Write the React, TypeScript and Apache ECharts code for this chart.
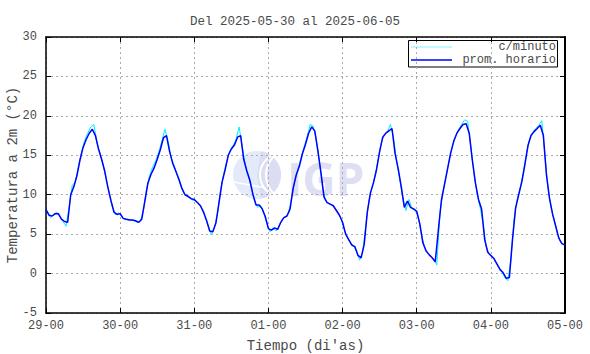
import React, { useEffect, useRef } from "react";
import * as echarts from "echarts";

const titleText = "Del 2025-05-30 al 2025-06-05";
const dayLabels = ["29-00", "30-00", "31-00", "01-00", "02-00", "03-00", "04-00", "05-00"];

// hourly average (prom. horario), hours 0..168 from 29-00
const hourly = [
  8.1, 7.4, 7.3, 7.6, 7.6, 6.9, 6.6, 6.5, 10.0, 11.0, 12.4, 14.4, 16.0, 17.0, 17.8, 18.3, 17.5, 15.8, 14.5, 13.0, 11.0, 9.3, 7.8, 7.5,
  7.6, 7.0, 6.9, 6.8, 6.8, 6.7, 6.5, 6.9, 9.2, 11.5, 12.6, 13.4, 14.5, 15.7, 17.2, 17.5, 15.5, 14.0, 13.0, 12.0, 10.8, 10.0, 9.8, 9.5,
  9.4, 9.0, 8.6, 7.8, 6.7, 5.4, 5.3, 6.4, 9.0, 11.6, 13.2, 15.0, 15.8, 16.3, 17.3, 17.5, 14.5, 13.0, 11.8, 10.0, 8.7, 8.7, 8.2, 7.2,
  5.7, 5.5, 5.8, 5.6, 6.5, 7.1, 7.3, 8.2, 10.8, 12.5, 13.6, 15.2, 16.4, 17.8, 18.6, 18.1, 15.6, 12.8, 9.7, 9.0, 8.8, 8.6, 8.0, 7.4,
  6.5, 5.0, 4.3, 3.6, 3.4, 2.3, 2.0, 3.7, 7.8, 10.2, 11.5, 13.2, 15.5, 17.3, 17.8, 18.1, 18.4, 15.2, 13.3, 11.0, 8.4, 9.2, 8.4, 8.2,
  7.9, 6.3, 3.9, 2.9, 2.4, 2.0, 1.5, 5.5, 9.3, 11.3, 13.3, 15.3, 16.8, 17.8, 18.4, 18.9, 19.0, 17.8, 14.4, 11.5, 9.4, 8.2, 4.3, 2.7,
  2.3, 1.9, 1.2, 0.5, 0.1, -0.6, -0.5, 4.3, 8.3, 10.0, 11.6, 13.8, 16.2, 17.5, 18.0, 18.4, 18.8, 17.5, 12.5, 9.5, 7.5, 6.0, 4.5, 3.8,
  3.6,
];

// per-minute readings, sampled at the half hour (h + 0.5)
const minute = [
  7.6, 7.1, 7.5, 7.8, 7.2, 6.6, 6.0, 8.5, 11.2, 11.6, 13.6, 15.4, 16.9, 17.8, 18.6, 18.9, 16.6, 15.2, 13.8, 12.0, 10.1, 8.4, 7.5, 7.7,
  7.2, 6.8, 6.9, 6.8, 6.7, 6.5, 6.6, 8.0, 10.6, 12.4, 13.5, 14.3, 15.4, 16.8, 18.3, 16.8, 14.7, 13.7, 12.4, 11.3, 10.2, 9.8, 9.6, 9.3,
  9.2, 8.8, 8.2, 7.2, 6.0, 4.9, 5.8, 7.6, 10.5, 12.6, 14.2, 15.6, 16.2, 17.0, 18.6, 16.2, 13.8, 12.5, 10.9, 9.2, 8.4, 8.6, 7.7, 6.3,
  5.3, 5.8, 5.4, 6.1, 6.9, 7.2, 7.6, 9.6, 11.8, 13.2, 14.6, 16.0, 17.3, 18.9, 18.7, 17.0, 14.2, 11.0, 9.2, 8.9, 8.7, 8.3, 7.7, 7.0,
  5.6, 4.6, 3.9, 3.6, 2.8, 1.7, 2.7, 6.0, 9.2, 10.9, 12.4, 14.4, 16.5, 17.6, 18.0, 18.9, 17.2, 14.2, 12.0, 9.6, 8.0, 9.4, 8.2, 8.0,
  7.2, 5.0, 3.4, 2.6, 2.2, 1.8, 1.1, 7.6, 10.4, 12.3, 14.4, 16.1, 17.3, 18.2, 18.9, 19.5, 19.3, 16.1, 12.8, 10.2, 8.4, 6.4, 3.4, 2.4,
  2.2, 1.5, 0.8, 0.3, -0.5, -0.9, 1.8, 6.8, 9.3, 10.9, 12.7, 15.2, 17.0, 17.9, 18.4, 18.8, 19.4, 15.0, 10.8, 8.4, 6.8, 5.2, 4.0, 3.7,
];

const FONT = "Liberation Mono";
const TXT = "#4a4a4a";

export default function App() {
  const ref = useRef<HTMLDivElement>(null);
  useEffect(() => {
    if (!ref.current) return;
    const chart = echarts.init(ref.current, undefined, { renderer: "svg" });
    const hourlyData = hourly.map((v, i) => [i, v]);
    const minuteData = minute.map((v, i) => [i + 0.5, v]);
    const axisLine = { show: true, onZero: false, lineStyle: { color: "#000", width: 1.5 } };
    const tick = { show: true, inside: true, length: 5, lineStyle: { color: "#000", width: 1 } };
    const splitLine = { show: true, lineStyle: { color: "#aaa", type: [2, 3] as any, width: 1 } };
    chart.setOption({
      animation: false,
      backgroundColor: "#fff",
      title: {
        text: titleText,
        left: "center",
        top: 10,
        textStyle: { fontFamily: FONT, fontSize: 12.5, fontWeight: "normal", color: TXT },
      },
      grid: { left: 46, right: 25, top: 37, bottom: 41, outerBoundsMode: "none", containLabel: false },
      xAxis: [
        {
          type: "value",
          min: 0,
          max: 168,
          interval: 24,
          axisLine,
          axisTick: tick,
          splitLine,
          axisLabel: {
            fontFamily: FONT,
            fontSize: 12,
            color: TXT,
            margin: 7,
            formatter: (v: number) => dayLabels[Math.round(v / 24)] ?? "",
          },
          name: "Tiempo (di'as)",
          nameLocation: "middle",
          nameGap: 26,
          nameMoveOverlap: false,
          nameTextStyle: { fontFamily: FONT, fontSize: 14, color: TXT },
        },
        {
          type: "value",
          position: "top",
          min: 0,
          max: 168,
          interval: 24,
          axisLine,
          axisTick: tick,
          splitLine: { show: false },
          axisLabel: { show: false },
        },
      ],
      yAxis: [
        {
          type: "value",
          min: -5,
          max: 30,
          interval: 5,
          axisLine,
          axisTick: tick,
          splitLine,
          axisLabel: { fontFamily: FONT, fontSize: 12, color: TXT, margin: 9 },
          name: "Temperatura a 2m (°C)",
          nameLocation: "middle",
          nameGap: 26,
          nameMoveOverlap: false,
          nameTextStyle: { fontFamily: FONT, fontSize: 14, color: TXT },
        },
        {
          type: "value",
          position: "right",
          min: -5,
          max: 30,
          interval: 5,
          axisLine: { show: true, onZero: false, lineStyle: { color: "#000", width: 2 } },
          axisTick: tick,
          splitLine: { show: false },
          axisLabel: { show: false },
        },
      ],
      graphic: [
        {
          type: "group",
          z: 0,
          silent: true,
          children: [
            { type: "circle", shape: { cx: 257, cy: 175, r: 24 }, style: { fill: "#e3ebfb" } },
            { type: "sector", shape: { cx: 257, cy: 175, r: 24, r0: 0, startAngle: -Math.PI * 0.45, endAngle: Math.PI * 0.45 }, style: { fill: "#dcdcf2" } },
            { type: "arc", shape: { cx: 282, cy: 175, r: 22, startAngle: Math.PI * 0.55, endAngle: Math.PI * 1.45 }, style: { stroke: "#fff", lineWidth: 2, fill: "none" } },
            { type: "arc", shape: { cx: 292, cy: 175, r: 26, startAngle: Math.PI * 0.62, endAngle: Math.PI * 1.38 }, style: { stroke: "#fff", lineWidth: 2, fill: "none" } },
            { type: "line", shape: { x1: 234, y1: 182, x2: 266, y2: 188 }, style: { stroke: "#fff", lineWidth: 1.5 } },
            {
              type: "text",
              style: { x: 287, y: 178, text: "IGP", fill: "#dfdff4", font: "bold 46px 'Open Sans', sans-serif", verticalAlign: "middle", align: "left" },
            },
          ],
        },
        {
          type: "group",
          z: 100,
          children: [
            { type: "rect", shape: { x: 408.5, y: 40.5, width: 149, height: 26.5 }, style: { fill: "#fff", stroke: "#000", lineWidth: 1 } },
            { type: "line", shape: { x1: 411, y1: 47, x2: 452, y2: 47 }, style: { stroke: "#7ff6ff", lineWidth: 1.2 } },
            { type: "line", shape: { x1: 411, y1: 60, x2: 452, y2: 60 }, style: { stroke: "#0000ff", lineWidth: 1.5 } },
            { type: "text", style: { x: 556, y: 47, text: "c/minuto", align: "right", verticalAlign: "middle", fill: TXT, font: `12px '${FONT}'` } },
            { type: "text", style: { x: 556, y: 60, text: "prom. horario", align: "right", verticalAlign: "middle", fill: TXT, font: `12px '${FONT}'` } },
          ],
        },
      ],
      series: [
        {
          name: "c/minuto",
          type: "line",
          data: minuteData,
          showSymbol: false,
          symbol: "none",
          lineStyle: { color: "#00eeff", width: 1 },
          z: 2,
        },
        {
          name: "prom. horario",
          type: "line",
          data: hourlyData,
          showSymbol: false,
          symbol: "none",
          lineStyle: { color: "#0000ff", width: 1.5 },
          z: 3,
        },
      ],
    });
    return () => chart.dispose();
  }, []);
  return <div ref={ref} style={{ width: 590, height: 354, position: "absolute", left: 0, top: 0 }} />;
}
